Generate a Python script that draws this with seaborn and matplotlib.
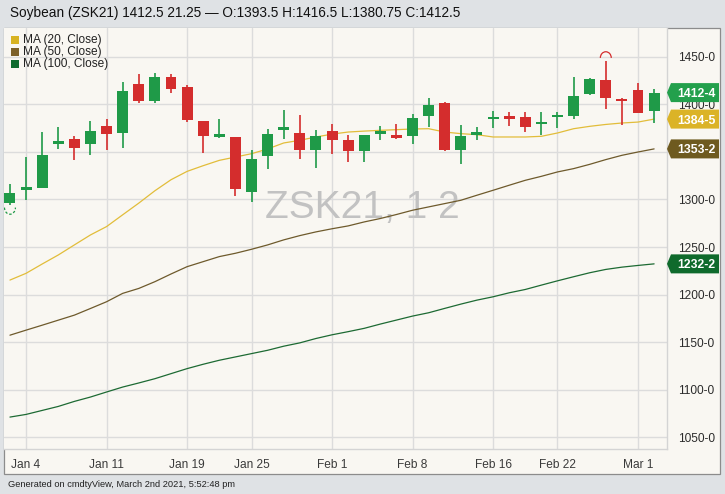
import matplotlib
matplotlib.use("Agg")
import matplotlib.pyplot as plt
import matplotlib.transforms as mtransforms
from matplotlib.patches import Rectangle, Polygon, Arc
import numpy as np
import pandas as pd
import seaborn as sns

# ---------------- data ----------------
dates = ["Dec 31", "Jan 4", "Jan 5", "Jan 6", "Jan 7", "Jan 8", "Jan 11", "Jan 12", "Jan 13",
         "Jan 14", "Jan 15", "Jan 19", "Jan 20", "Jan 21", "Jan 22", "Jan 25", "Jan 26",
         "Jan 27", "Jan 28", "Jan 29", "Feb 1", "Feb 2", "Feb 3", "Feb 4", "Feb 5", "Feb 8",
         "Feb 9", "Feb 10", "Feb 11", "Feb 12", "Feb 16", "Feb 17", "Feb 18", "Feb 19",
         "Feb 22", "Feb 23", "Feb 24", "Feb 25", "Feb 26", "Mar 1", "Mar 2"]

opens = [1296.1, 1310.5, 1312.0, 1358.8, 1363.4, 1358.8, 1377.1, 1370.1, 1421.1, 1403.9,
         1429.2, 1418.0, 1382.7, 1365.8, 1365.8, 1307.7, 1345.8, 1373.6, 1370.1, 1351.8,
         1372.2, 1363.0, 1351.1, 1369.4, 1367.6, 1366.5, 1388.0, 1401.8, 1352.5, 1367.4,
         1385.1, 1387.8, 1386.5, 1379.2, 1387.2, 1387.8, 1410.8, 1426.0, 1405.2, 1415.6,
         1393.5]
highs = [1316.5, 1344.7, 1371.1, 1376.4, 1366.5, 1382.7, 1385.2, 1423.9, 1432.0, 1432.7,
         1431.7, 1420.4, 1382.9, 1384.5, 1366.0, 1351.8, 1374.6, 1394.0, 1388.7, 1372.9,
         1379.2, 1367.6, 1367.6, 1377.1, 1379.9, 1390.5, 1407.0, 1402.5, 1378.2, 1376.0,
         1393.4, 1392.4, 1392.4, 1392.4, 1392.4, 1428.8, 1428.1, 1445.5, 1407.3, 1422.9,
         1416.5]
lows = [1294.0, 1299.0, 1312.0, 1353.5, 1341.2, 1347.2, 1352.5, 1354.6, 1401.8, 1401.1,
        1411.6, 1381.7, 1348.9, 1364.8, 1304.2, 1297.2, 1332.4, 1364.1, 1343.0, 1333.5,
        1347.5, 1339.4, 1339.4, 1362.3, 1364.1, 1358.8, 1376.4, 1351.0, 1337.0, 1362.8,
        1375.0, 1377.8, 1371.5, 1368.0, 1375.0, 1384.4, 1409.7, 1394.8, 1378.5, 1391.0,
        1380.75]
closes = [1306.7, 1312.0, 1346.5, 1361.3, 1353.9, 1371.8, 1369.4, 1414.4, 1403.9, 1428.5,
          1415.8, 1383.5, 1366.9, 1368.7, 1311.3, 1343.0, 1369.4, 1375.4, 1351.8, 1366.5,
          1363.0, 1350.7, 1367.6, 1371.1, 1365.1, 1386.3, 1399.3, 1352.5, 1366.5, 1371.5,
          1386.1, 1384.7, 1376.7, 1380.9, 1388.5, 1408.7, 1426.4, 1407.3, 1403.8, 1391.25,
          1412.5]

ma20 = [1215.2, 1222.3, 1232.1, 1241.6, 1252.2, 1262.7, 1271.5, 1283.9, 1296.2, 1309.2,
        1320.8, 1329.6, 1335.6, 1341.2, 1344.7, 1348.2, 1353.2, 1359.5, 1362.3, 1365.8,
        1368.8, 1371.0, 1372.0, 1372.8, 1373.5, 1374.2, 1374.5, 1371.0, 1369.3, 1368.2,
        1365.8, 1365.8, 1365.8, 1366.5, 1370.0, 1374.5, 1377.0, 1379.0, 1380.5, 1381.5,
        1384.625]
ma50 = [1157.2, 1162.5, 1167.7, 1173.0, 1178.3, 1185.3, 1192.4, 1201.2, 1206.4, 1213.5,
        1221.6, 1229.3, 1234.6, 1239.9, 1243.4, 1247.6, 1252.2, 1257.5, 1262.0, 1265.9,
        1269.2, 1272.2, 1276.4, 1280.0, 1284.2, 1288.7, 1292.2, 1295.7, 1299.2, 1304.5,
        1309.7, 1315.0, 1320.2, 1324.4, 1329.0, 1332.5, 1337.0, 1342.0, 1346.5, 1350.0,
        1353.25]
ma100 = [1071.0, 1073.8, 1078.0, 1082.2, 1087.5, 1092.1, 1097.4, 1102.6, 1106.9, 1111.4,
         1116.7, 1122.0, 1126.6, 1130.8, 1134.3, 1137.8, 1141.3, 1145.6, 1149.1, 1153.7,
         1157.6, 1160.9, 1164.4, 1168.9, 1173.1, 1177.3, 1180.8, 1185.4, 1189.9, 1194.1,
         1197.6, 1201.8, 1205.3, 1209.9, 1214.4, 1218.7, 1222.9, 1226.4, 1228.8, 1230.6,
         1232.25]

xtick_labels = ["Jan 4", "Jan 11", "Jan 19", "Jan 25", "Feb 1", "Feb 8", "Feb 16", "Feb 22", "Mar 1"]
ytick_values = [1050, 1100, 1150, 1200, 1250, 1300, 1350, 1400, 1450]
ytick_labels = ["1050-0", "1100-0", "1150-0", "1200-0", "1250-0", "1300-0", "", "1400-0", "1450-0"]
legend_labels = ["MA (20, Close)", "MA (50, Close)", "MA (100, Close)"]
tag_values = [1412.5, 1384.625, 1353.25, 1232.25]
tag_texts = ["1412-4", "1384-5", "1353-2", "1232-2"]
title_text = "Soybean (ZSK21) 1412.5 21.25 \u2014 O:1393.5 H:1416.5 L:1380.75 C:1412.5"
footer_text = "Generated on cmdtyView, March 2nd 2021, 5:52:48 pm"
watermark = "ZSK21, 1 2"

# ---------------- style ----------------
sns.set_style("white")
plt.rcParams['font.family'] = ['Liberation Sans', 'DejaVu Sans']

W, H = 725, 494
def fx(x): return x / W
def fy(y): return 1 - y / H

GREEN = "#1f9a48"
RED = "#d42d2d"
C20, C50, C100 = "#e2bd3a", "#6e5a2c", "#1d6a33"
BG = "#f9f7f2"

fig = plt.figure(figsize=(W / 100, H / 100), dpi=100, facecolor="#dfe2e5")
# outer frame
fig.patches.append(Rectangle((fx(4), fy(474)), fx(720) - fx(4), fy(28) - fy(474),
                             transform=fig.transFigure, facecolor=BG,
                             edgecolor="#8c8c8c", lw=0.9, zorder=-5))

ax = fig.add_axes([fx(4), fy(449), fx(667) - fx(4), fy(28) - fy(449)])
ax.set_facecolor(BG)
ax.set_zorder(1)

pos = np.arange(len(dates))
df = pd.DataFrame({"pos": pos, "date": dates, "open": opens, "high": highs,
                   "low": lows, "close": closes, "ma20": ma20, "ma50": ma50, "ma100": ma100})

# moving averages
sns.lineplot(data=df, x="pos", y="ma100", ax=ax, color=C100, lw=0.9, zorder=2, legend=False)
sns.lineplot(data=df, x="pos", y="ma50", ax=ax, color=C50, lw=0.9, zorder=2, legend=False)
sns.lineplot(data=df, x="pos", y="ma20", ax=ax, color=C20, lw=0.9, zorder=2, legend=False)

# candles
for _, r in df.iterrows():
    col = GREEN if r["close"] >= r["open"] else RED
    ax.vlines(r["pos"], r["low"], r["high"], color=col, lw=1.2, zorder=3)
    bottom = min(r["open"], r["close"])
    height = max(abs(r["close"] - r["open"]), 2.2)
    ax.bar(r["pos"], height, bottom=bottom, width=0.68, color=col, edgecolor="none", zorder=4)

# high / low markers
ilo = int(np.argmin(lows))
ihi = int(np.argmax(highs))
ax.add_patch(Arc((pos[ilo], lows[ilo] - 2.5), 0.68, 14, theta1=180, theta2=360,
                 color=GREEN, lw=0.9, ls=(0, (2, 1.5)), zorder=4))
ax.add_patch(Arc((pos[ihi], highs[ihi] + 3.5), 0.68, 13, theta1=0, theta2=180,
                 color=RED, lw=0.9, zorder=4))

# axes limits / ticks
ax.set_xlim(-0.37, 40.8)
ax.set_ylim(1037.4, 1480.5)
tick_pos = [dates.index(d) for d in xtick_labels]
ax.set_xticks(tick_pos)
ax.set_xticklabels(xtick_labels)
ax.set_yticks(ytick_values)
ax.set_yticklabels(ytick_labels)
ax.yaxis.tick_right()
ax.tick_params(axis="y", length=0, pad=8, labelsize=8.6, labelcolor="#2b2b2b")
ax.tick_params(axis="x", length=0, pad=7, labelsize=8.6, labelcolor="#3a3a3a")
ax.set_xlabel("")
ax.set_ylabel("")
ax.grid(True, color="#dcdcdc", lw=1.0, zorder=0)
ax.set_axisbelow(True)
for s in ["left", "top"]:
    ax.spines[s].set_visible(False)
for s in ["right", "bottom"]:
    ax.spines[s].set_color("#d4d4d4")
    ax.spines[s].set_linewidth(1.0)

# watermark
trans_b = mtransforms.blended_transform_factory(ax.transAxes, ax.transData)
ax.text(0.54, 1280.5, watermark, transform=trans_b, ha="center", va="baseline",
        fontsize=28, color="#c2c2c2", zorder=1)

# value tags on the right
tag_colors = ["#23a04c", "#dbb327", "#6e5a1f", "#0f6a2c"]
x0 = 1.0
x1 = (671 - 4) / 663
x2 = (719 - 4) / 663
hh = 10.0
for v, t, c in zip(tag_values, tag_texts, tag_colors):
    poly = Polygon([(x0, v), (x1, v + hh), (x2, v + hh), (x2, v - hh), (x1, v - hh)],
                   closed=True, transform=trans_b, facecolor=c, edgecolor="none",
                   clip_on=False, zorder=10)
    ax.add_patch(poly)
    ax.text((x1 + x2) / 2 + 0.002, v, t, transform=trans_b, ha="center", va="center_baseline",
            color="white", fontsize=8.8, fontweight="bold", zorder=11, clip_on=False)

# legend (manual)
leg_colors = ["#d8b321", "#7d6128", "#0f6b2e"]
for k, (lab, c) in enumerate(zip(legend_labels, leg_colors)):
    yc = 40 + 12 * k
    ax.add_patch(Rectangle((fx(11), fy(yc + 4)), fx(8), 8 / H,
                           transform=fig.transFigure, facecolor=c,
                           edgecolor="none", zorder=20, clip_on=False))
    ax.text(fx(23), fy(yc), lab, transform=fig.transFigure, ha="left", va="center",
            fontsize=8.6, color="#222222", zorder=21)

# title & footer
fig.text(fx(10), fy(13), title_text, ha="left", va="center", fontsize=9.8, color="#111111")
fig.text(fx(8), fy(484), footer_text, ha="left", va="center", fontsize=6.7, color="#222222")

fig.savefig("out.png", dpi=100, facecolor=fig.get_facecolor())
